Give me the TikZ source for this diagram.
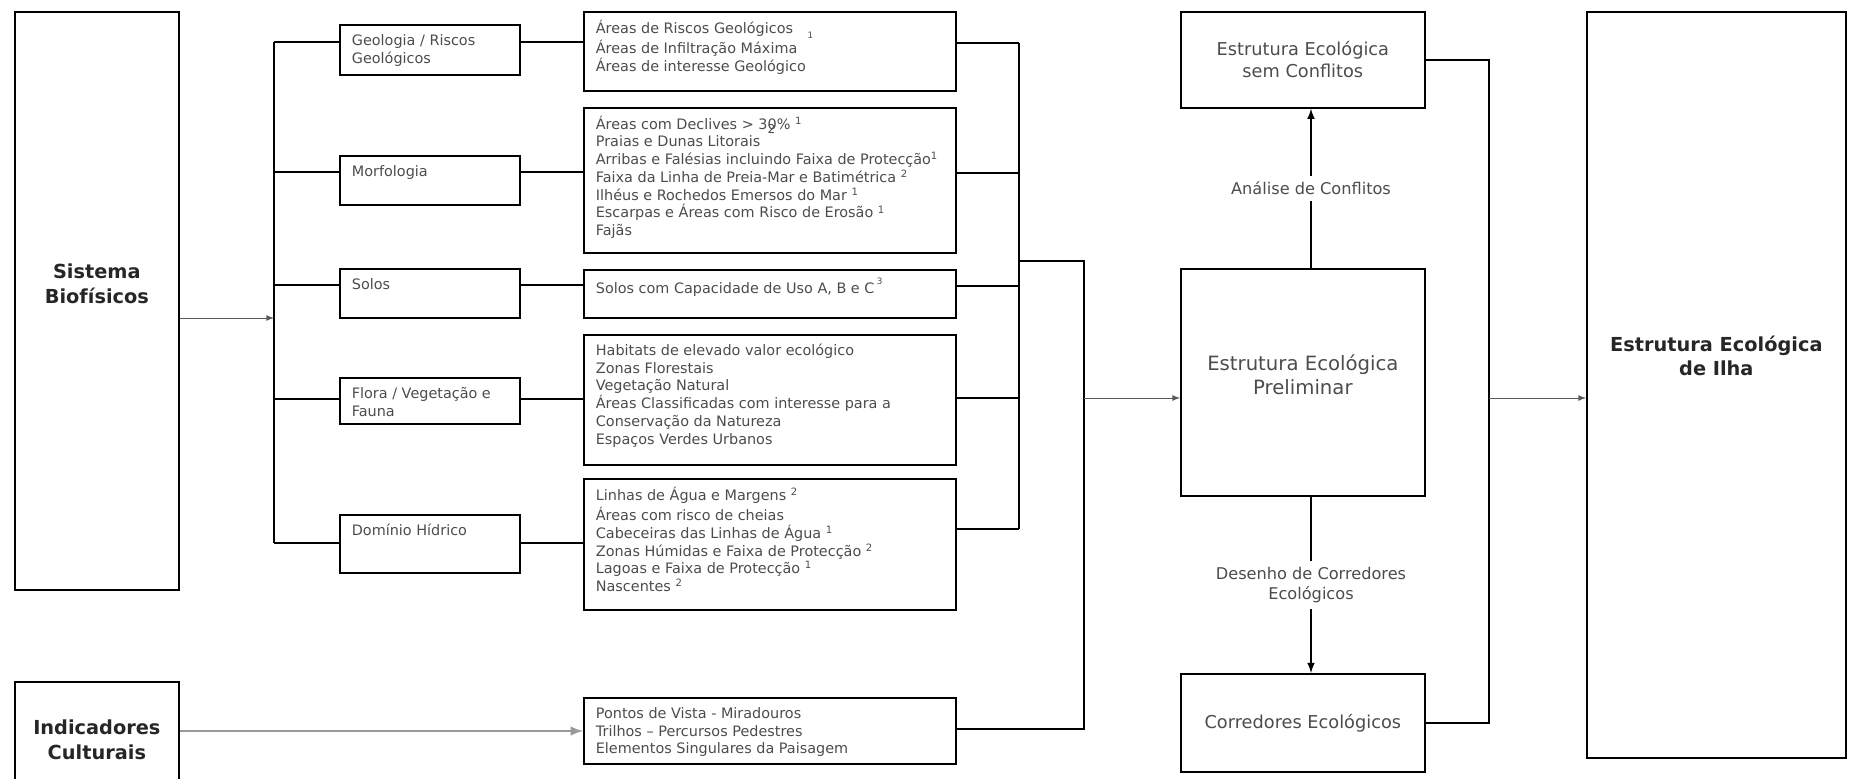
\documentclass[tikz,border=0pt]{standalone}
\usepackage{fontspec}
\setmainfont{DejaVu Sans}
\usetikzlibrary{arrows}
\usetikzlibrary{positioning}
\definecolor{txtgray}{gray}{0.3}
\tikzset{
    Box/.style = {rectangle, draw=black, line width=1pt, anchor=north west, inner sep=0pt, align=center, text=txtgray}
}
\tikzset{
    ListBox/.style = {rectangle, draw=black, line width=1pt, anchor=north west, inner xsep=0.24cm, inner ysep=0.16cm, text=txtgray, font=\fontsize{8.2}{10.1}\selectfont}
}
\tikzset{
    Edge/.style = {draw=black, line width=1pt},
    Arrow/.style = {draw=black!65, line width=0.5pt, -latex}
}

\begin{document}
\begin{tikzpicture}[x=0.02cm, y=-0.02cm]
\tikzset{
    Title/.style = {align=center, text=black!85, font=\fontsize{11}{14}\selectfont\bfseries},
    Plain/.style = {align=center, text=txtgray, font=\fontsize{11.2}{13.7}\selectfont},
    Label/.style = {align=center, fill=white, text=txtgray, font=\fontsize{9.2}{11.4}\selectfont}
}
\useasboundingbox (0,0) rectangle (1852,778);

% sources
\node[Box, minimum width=3.28cm, minimum height=11.56cm] (sis) at (14,11) {};
\node[Title] (sisT) at ([yshift=0.34cm]sis.center) {Sistema\\Biofísicos};
\node[Box, minimum width=3.28cm, minimum height=2.32cm] (ind) at (14,681) {};
\node[Title] (indT) at (ind.center) {Indicadores\\Culturais};

% themes
\node[ListBox] (geo) at (339,24) {\parbox[c][0.68cm][t]{3.12cm}{\strut Geologia / Riscos\\Geológicos}};
\node[ListBox] (morf) at (339,155) {\parbox[c][0.66cm][t]{3.12cm}{\strut Morfologia}};
\node[ListBox] (solo) at (339,268) {\parbox[c][0.66cm][t]{3.12cm}{\strut Solos}};
\node[ListBox] (flora) at (339,377) {\parbox[c][0.60cm][t]{3.12cm}{\strut Flora / Vegetação e\\Fauna}};
\node[ListBox] (hidr) at (339,514) {\parbox[c][0.84cm][t]{3.12cm}{\strut Domínio Hídrico}};

% lists
\node[ListBox] (lgeo) at (583,11) {\parbox[c][1.26cm][t]{6.96cm}{\strut Áreas de Riscos Geológicos\hspace{1em}\raisebox{-0.35em}{\tiny 1}\\
    Áreas de Infiltração Máxima\\
    Áreas de interesse Geológico}};
\node[ListBox] (lmorf) at (583,107) {\parbox[c][2.58cm][t]{6.96cm}{\strut Áreas com Declives > 3\rlap{\raisebox{-0.3em}{\scriptsize 2}}0\% \textsuperscript{1}\\
    Praias e Dunas Litorais\\
    Arribas e Falésias incluindo Faixa de Protecção\textsuperscript{1}\\
    Faixa da Linha de Preia-Mar e Batimétrica \textsuperscript{2}\\
    Ilhéus e Rochedos Emersos do Mar \textsuperscript{1}\\
    Escarpas e Áreas com Risco de Erosão \textsuperscript{1}\\
    Fajãs}};
\node[ListBox] (lsolo) at (583,269) {\parbox[c][0.64cm][t]{6.96cm}{\strut Solos com Capacidade de Uso A, B e C\,\raisebox{0.6em}{\tiny 3}}};
\node[ListBox] (lflora) at (583,334) {\parbox[c][2.28cm][t]{6.96cm}{\strut Habitats de elevado valor ecológico\\
    Zonas Florestais\\
    Vegetação Natural\\
    Áreas Classificadas com interesse para a\\
    Conservação da Natureza\\
    Espaços Verdes Urbanos}};
\node[ListBox] (lhidr) at (583,478) {\parbox[c][2.30cm][t]{6.96cm}{\strut Linhas de Água e Margens \textsuperscript{2}\\
    Áreas com risco de cheias\\
    Cabeceiras das Linhas de Água \textsuperscript{1}\\
    Zonas Húmidas e Faixa de Protecção \textsuperscript{2}\\
    Lagoas e Faixa de Protecção \textsuperscript{1}\\
    Nascentes \textsuperscript{2}}};
\node[ListBox] (lcult) at (583,697) {\parbox[c][1.00cm][t]{6.96cm}{\strut Pontos de Vista - Miradouros\\
    Trilhos – Percursos Pedestres\\
    Elementos Singulares da Paisagem}};

% results
\node[Box, minimum width=4.88cm, minimum height=1.92cm, font=\fontsize{10.1}{12.5}\selectfont] (semc) at (1180,11) {Estrutura Ecológica\\sem Conflitos};
\node[Box, minimum width=4.88cm, minimum height=4.54cm] (prel) at (1180,268) {};
\node[Plain] (prelT) at ([yshift=0.15cm]prel.center) {Estrutura Ecológica\\Preliminar};
\node[Box, minimum width=4.88cm, minimum height=1.96cm, font=\fontsize{10.1}{12}\selectfont] (corr) at (1180,673) {Corredores Ecológicos};
\node[Box, minimum width=5.18cm, minimum height=14.92cm] (ilha) at (1586,11) {};
\node[Title] (ilhaT) at ([yshift=0.58cm]ilha.center) {Estrutura Ecológica\\de Ilha};

% left bus
\coordinate (jsis) at (274,318);
\foreach \n/\y in {geo/42, morf/172, solo/285, flora/399, hidr/543} {
    \coordinate (j\n) at (274,\y);
    \draw[Edge] (j\n) -- (j\n -| \n.west);
    \draw[Edge] (\n.east |- j\n) -- (l\n.west |- j\n);
}
\draw[Edge] (jgeo) -- (jhidr);
\draw[Arrow] (jsis -| sis.east) -- (jsis);

% middle bus
\foreach \n/\y in {geo/43, morf/173, solo/286, flora/398, hidr/529} {
    \coordinate (k\n) at (1019,\y);
    \draw[Edge] (l\n.east |- k\n) -- (k\n);
}
\draw[Edge] (kgeo) -- (khidr);
\coordinate (kmid) at (1019,261);
\coordinate (m1) at (1084,261);
\coordinate (m2) at (1084,729);
\coordinate (m3) at (1084,398);
\draw[Edge] (kmid) -- (m1) -- (m2) -- (lcult.east |- m2);
\draw[Arrow] (m3) -- (m3 -| prel.west);

\coordinate (cin) at (0,731);
\draw[Arrow, draw=black!40, line width=1.4pt] (ind.east |- cin) -- (lcult.west |- cin);

% analysis
\coordinate (vx) at (1311,0);
\draw[Edge, -latex] (prel.north -| vx) -- node[Label] (ac) {Análise de Conflitos} (semc.south -| vx);
\draw[Edge, -latex] (prel.south -| vx) -- node[Label] (dc) {Desenho de Corredores\\Ecológicos} (corr.north -| vx);

% right bus
\coordinate (n1) at (1489,398);
\draw[Edge] (semc.east) -| (n1) |- (corr.east);
\draw[Arrow] (n1) -- (n1 -| ilha.west);
\end{tikzpicture}
\end{document}
